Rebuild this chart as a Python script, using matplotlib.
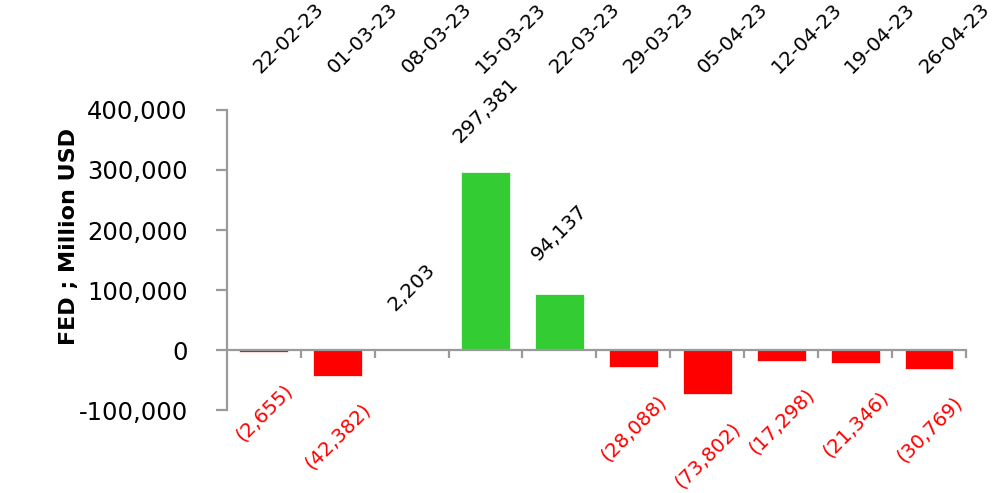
import matplotlib.pyplot as plt
import numpy as np

plt.rcParams['font.family'] = ['DejaVu Sans']

# weekly change, million USD
dates = ['22-02-23', '01-03-23', '08-03-23', '15-03-23', '22-03-23',
         '29-03-23', '05-04-23', '12-04-23', '19-04-23', '26-04-23']
values = [-2655, -42382, 2203, 297381, 94137,
          -28088, -73802, -17298, -21346, -30769]

pos_color = '#33cc33'
neg_color = '#ff0000'
axis_gray = '#9a9a9a'

fig = plt.figure(figsize=(9.99, 4.93), dpi=100)
ax = fig.add_axes([0.227, 0.168, 0.74, 0.609])

x = np.arange(len(dates))
colors = [pos_color if v >= 0 else neg_color for v in values]
ax.bar(x, values, width=0.66, color=colors, edgecolor='white', linewidth=0.5, zorder=2)

# value labels, rotated
for xi, v in zip(x, values):
    if v >= 0:
        ax.annotate(f'{v:,}', (xi, v), xytext=(0, 44), textcoords='offset points',
                    rotation=45, ha='center', va='center', fontsize=14.5, color='black')
    else:
        ax.annotate(f'({-v:,})', (xi, v), xytext=(0, -44), textcoords='offset points',
                    rotation=45, ha='center', va='center', fontsize=14.2, color=neg_color)

ax.set_xlim(-0.5, len(dates) - 0.5)
ax.set_ylim(-100000, 400000)
ax.set_yticks(np.arange(-100000, 400001, 100000))
ax.set_yticklabels([f'{t:,}' for t in range(-100000, 400001, 100000)])

# x axis drawn along zero, dates on top
ax.spines['bottom'].set_position(('data', 0))
ax.spines['top'].set_visible(False)
ax.spines['right'].set_visible(False)
for s in ['left', 'bottom']:
    ax.spines[s].set_color(axis_gray)
    ax.spines[s].set_linewidth(1.6)

ax.set_xticks(x)
ax.set_xticks(np.arange(0.5, len(dates)), minor=True)
ax.set_xticklabels(dates)
ax.tick_params(axis='x', which='major', bottom=False, top=False,
               labelbottom=False, labeltop=True, pad=20, labelsize=14.3)
ax.tick_params(axis='x', which='minor', bottom=True, top=False, direction='out',
               length=6, width=1.6, color=axis_gray)
plt.setp(ax.get_xticklabels(), rotation=45, ha='left', va='bottom', rotation_mode='anchor')

ax.tick_params(axis='y', length=8, width=1.6, color=axis_gray, pad=20, labelsize=17.5)

ax.set_ylabel('FED ; Million USD', fontsize=16, fontweight='bold')
ax.yaxis.set_label_coords(-0.2, 0.58)

fig.savefig('out.png', dpi=100)
